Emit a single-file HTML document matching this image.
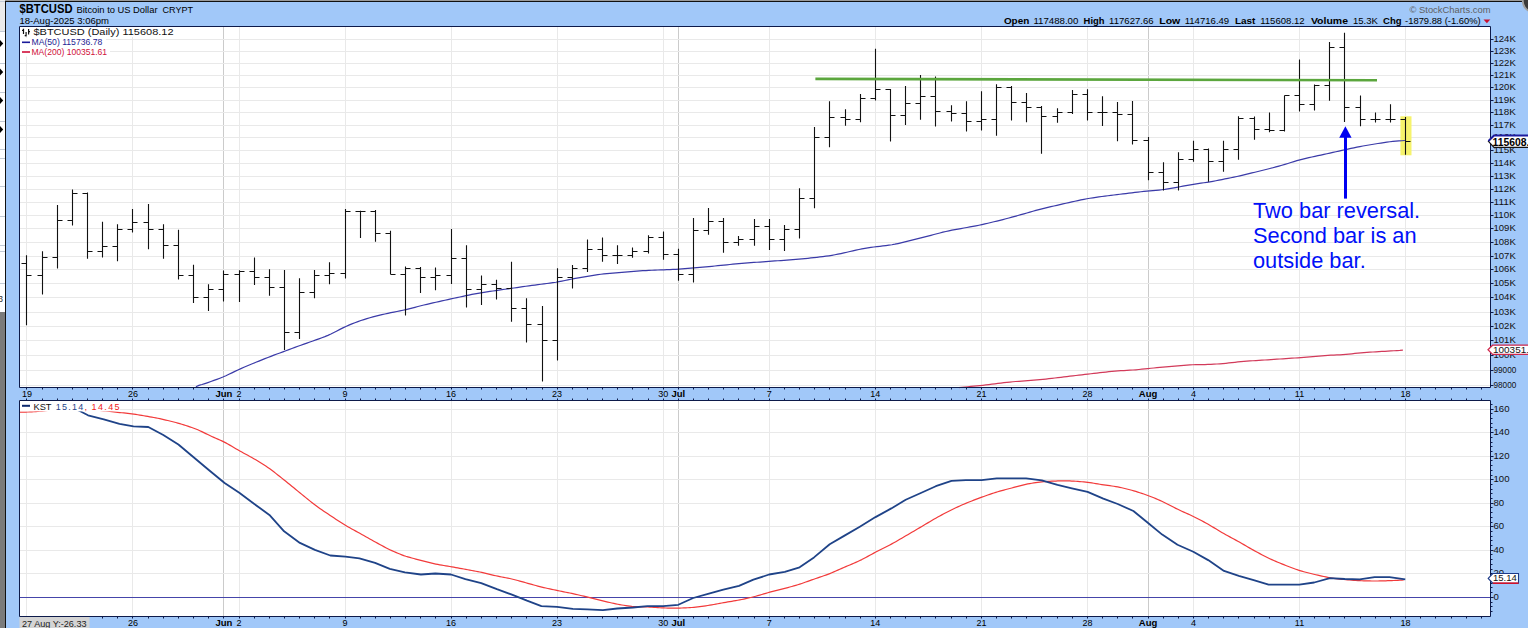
<!DOCTYPE html><html><head><meta charset="utf-8"><style>html,body{margin:0;padding:0;background:#fff;overflow:hidden}svg text{font-family:"Liberation Sans",sans-serif}</style></head><body>
<svg width="1528" height="628" viewBox="0 0 1528 628" style="display:block">
<rect x="0" y="0" width="1528" height="628" fill="#ffffff"/>
<rect x="0" y="0" width="5" height="31" fill="#ebebeb"/>
<rect x="0" y="312" width="5" height="316" fill="#7b7b7b"/>
<rect x="0" y="1" width="5" height="1" fill="#c3cbd6"/>
<rect x="0" y="31" width="5" height="1" fill="#c3cbd6"/>
<rect x="0" y="63" width="5" height="1" fill="#c3cbd6"/>
<rect x="0" y="92" width="5" height="1" fill="#c3cbd6"/>
<rect x="0" y="121" width="5" height="1" fill="#c3cbd6"/>
<rect x="0" y="149" width="5" height="1" fill="#c3cbd6"/>
<rect x="0" y="158" width="5" height="1" fill="#c3cbd6"/>
<rect x="0" y="186" width="5" height="1" fill="#c3cbd6"/>
<rect x="0" y="216" width="5" height="1" fill="#c3cbd6"/>
<rect x="0" y="245" width="5" height="1" fill="#c3cbd6"/>
<rect x="0" y="251" width="5" height="1" fill="#c3cbd6"/>
<rect x="0" y="283" width="5" height="1" fill="#c3cbd6"/>
<path d="M0 40.0 L3.2 43.5 L0 47.0 Z" fill="#000"/>
<path d="M0 68.5 L3.2 72 L0 75.5 Z" fill="#000"/>
<path d="M0 97.0 L3.2 100.5 L0 104.0 Z" fill="#000"/>
<path d="M0 126.0 L3.2 129.5 L0 133.0 Z" fill="#000"/>
<text x="-2" y="302" font-size="9" fill="#333" font-weight="normal" text-anchor="start" >3</text>
<rect x="5" y="0" width="1523" height="1" fill="#9a9a9a"/>
<rect x="5" y="1" width="1523" height="1" fill="#111"/>
<rect x="5" y="1" width="1" height="627" fill="#111"/>
<rect x="6" y="2" width="1522" height="626" fill="#a1c8f9"/>
<circle cx="1534" cy="1" r="11.2" fill="#3a3a3a" stroke="#a0a0a0" stroke-width="1.8"/>
<text x="19.5" y="13.3" font-size="12.5" fill="#000" font-weight="bold" text-anchor="start" textLength="53" lengthAdjust="spacingAndGlyphs" >$BTCUSD</text>
<text x="76.5" y="12.8" font-size="9.5" fill="#000" font-weight="normal" text-anchor="start" textLength="81" lengthAdjust="spacingAndGlyphs" >Bitcoin to US Dollar</text>
<text x="162.5" y="12.8" font-size="9.8" fill="#000" font-weight="normal" text-anchor="start" textLength="30.5" lengthAdjust="spacingAndGlyphs" >CRYPT</text>
<text x="19.5" y="24.2" font-size="9.5" fill="#000" font-weight="normal" text-anchor="start" textLength="89.5" lengthAdjust="spacingAndGlyphs" >18-Aug-2025 3:06pm</text>
<text x="1409.5" y="12.7" font-size="9.5" fill="#606060" font-weight="normal" text-anchor="start" textLength="81" lengthAdjust="spacingAndGlyphs" >© StockCharts.com</text>
<text x="1003.9" y="23.8" font-size="9.8" fill="#000" font-weight="bold" text-anchor="start" textLength="25.4" lengthAdjust="spacingAndGlyphs" >Open</text>
<text x="1033.4" y="23.8" font-size="9" fill="#000" font-weight="normal" text-anchor="start" textLength="45.0" lengthAdjust="spacingAndGlyphs" >117488.00</text>
<text x="1083.6" y="23.8" font-size="9.8" fill="#000" font-weight="bold" text-anchor="start" textLength="20.9" lengthAdjust="spacingAndGlyphs" >High</text>
<text x="1109.1" y="23.8" font-size="9" fill="#000" font-weight="normal" text-anchor="start" textLength="44.5" lengthAdjust="spacingAndGlyphs" >117627.66</text>
<text x="1159.3" y="23.8" font-size="9.8" fill="#000" font-weight="bold" text-anchor="start" textLength="21.0" lengthAdjust="spacingAndGlyphs" >Low</text>
<text x="1184.7" y="23.8" font-size="9" fill="#000" font-weight="normal" text-anchor="start" textLength="44.5" lengthAdjust="spacingAndGlyphs" >114716.49</text>
<text x="1234.9" y="23.8" font-size="9.8" fill="#000" font-weight="bold" text-anchor="start" textLength="20.5" lengthAdjust="spacingAndGlyphs" >Last</text>
<text x="1260.2" y="23.8" font-size="9" fill="#000" font-weight="normal" text-anchor="start" textLength="44.5" lengthAdjust="spacingAndGlyphs" >115608.12</text>
<text x="1310.9" y="23.8" font-size="9.8" fill="#000" font-weight="bold" text-anchor="start" textLength="37.1" lengthAdjust="spacingAndGlyphs" >Volume</text>
<text x="1352.9" y="23.8" font-size="9" fill="#000" font-weight="normal" text-anchor="start" textLength="24.9" lengthAdjust="spacingAndGlyphs" >15.3K</text>
<text x="1383.1" y="23.8" font-size="9.8" fill="#000" font-weight="bold" text-anchor="start" textLength="18.5" lengthAdjust="spacingAndGlyphs" >Chg</text>
<text x="1405.1" y="23.8" font-size="9" fill="#000" font-weight="normal" text-anchor="start" textLength="75.5" lengthAdjust="spacingAndGlyphs" >-1879.88 (-1.60%)</text>
<path d="M1483.5 19.5 L1490.3 19.5 L1486.9 23.2 Z" fill="#c8102e"/>
<rect x="19" y="26" width="1471" height="361" fill="#fff"/>
<rect x="19" y="400" width="1471" height="216" fill="#fff"/>
<path d="M223.5 26 V387 M223.5 400 V616 M678.5 26 V387 M678.5 400 V616 M1148.5 26 V387 M1148.5 400 V616" stroke="#cbcbcb" stroke-width="1" fill="none"/>
<path d="M26.5 26 V387 M26.5 400 V616 M132.5 26 V387 M132.5 400 V616 M239.5 26 V387 M239.5 400 V616 M345.5 26 V387 M345.5 400 V616 M451.5 26 V387 M451.5 400 V616 M557.5 26 V387 M557.5 400 V616 M663.5 26 V387 M663.5 400 V616 M769.5 26 V387 M769.5 400 V616 M875.5 26 V387 M875.5 400 V616 M981.5 26 V387 M981.5 400 V616 M1087.5 26 V387 M1087.5 400 V616 M1193.5 26 V387 M1193.5 400 V616 M1299.5 26 V387 M1299.5 400 V616 M1405.5 26 V387 M1405.5 400 V616 M19 385.5 H1490 M19 370.5 H1490 M19 355.5 H1490 M19 340.5 H1490 M19 326.5 H1490 M19 312.5 H1490 M19 297.5 H1490 M19 283.5 H1490 M19 269.5 H1490 M19 256.5 H1490 M19 242.5 H1490 M19 228.5 H1490 M19 215.5 H1490 M19 202.5 H1490 M19 189.5 H1490 M19 176.5 H1490 M19 163.5 H1490 M19 150.5 H1490 M19 137.5 H1490 M19 125.5 H1490 M19 112.5 H1490 M19 100.5 H1490 M19 87.5 H1490 M19 75.5 H1490 M19 63.5 H1490 M19 51.5 H1490 M19 39.5 H1490 M19 597.5 H1490 M19 573.5 H1490 M19 550.5 H1490 M19 526.5 H1490 M19 503.5 H1490 M19 479.5 H1490 M19 456.5 H1490 M19 432.5 H1490 M19 409.5 H1490" stroke="#e9e9e9" stroke-width="1" fill="none"/>
<rect x="1400.4" y="116.3" width="11.1" height="39" fill="#f6f36c"/>
<polyline points="958.9,387.6 961.9,387.24 964.9,387.01 967.9,386.75 970.9,386.47 973.9,386.19 976.9,385.9 979.9,385.6 982.9,385.28 985.9,384.93 988.9,384.56 991.9,384.19 994.9,383.81 997.9,383.43 1000.9,383.05 1003.9,382.68 1006.9,382.34 1009.9,382.03 1012.9,381.76 1015.9,381.51 1018.9,381.28 1021.9,381.06 1024.9,380.84 1027.9,380.62 1030.9,380.4 1033.9,380.17 1036.9,379.93 1039.9,379.67 1042.9,379.37 1045.9,379.04 1048.9,378.7 1051.9,378.35 1054.9,377.99 1057.9,377.64 1060.9,377.28 1063.9,376.92 1066.9,376.57 1069.9,376.21 1072.9,375.86 1075.9,375.5 1078.9,375.14 1081.9,374.79 1084.9,374.44 1087.9,374.09 1090.9,373.74 1093.9,373.4 1096.9,373.06 1099.9,372.72 1102.9,372.38 1105.9,372.04 1108.9,371.71 1111.9,371.39 1114.9,371.12 1117.9,370.88 1120.9,370.69 1123.9,370.53 1126.9,370.37 1129.9,370.2 1132.9,370.01 1135.9,369.78 1138.9,369.5 1141.9,369.19 1144.9,368.87 1147.9,368.56 1150.9,368.26 1153.9,367.98 1156.9,367.71 1159.9,367.45 1162.9,367.19 1165.9,366.93 1168.9,366.67 1171.9,366.41 1174.9,366.15 1177.9,365.9 1180.9,365.64 1183.9,365.38 1186.9,365.14 1189.9,364.93 1192.9,364.77 1195.9,364.67 1198.9,364.61 1201.9,364.58 1204.9,364.54 1207.9,364.46 1210.9,364.34 1213.9,364.19 1216.9,364.01 1219.9,363.81 1222.9,363.57 1225.9,363.28 1228.9,362.96 1231.9,362.63 1234.9,362.29 1237.9,361.96 1240.9,361.67 1243.9,361.4 1246.9,361.17 1249.9,360.96 1252.9,360.76 1255.9,360.56 1258.9,360.37 1261.9,360.17 1264.9,359.98 1267.9,359.78 1270.9,359.58 1273.9,359.39 1276.9,359.19 1279.9,359.0 1282.9,358.8 1285.9,358.6 1288.9,358.41 1291.9,358.21 1294.9,358.01 1297.9,357.79 1300.9,357.57 1303.9,357.34 1306.9,357.09 1309.9,356.85 1312.9,356.6 1315.9,356.35 1318.9,356.1 1321.9,355.85 1324.9,355.62 1327.9,355.4 1330.9,355.22 1333.9,355.06 1336.9,354.92 1339.9,354.78 1342.9,354.61 1345.9,354.39 1348.9,354.11 1351.9,353.79 1354.9,353.45 1357.9,353.12 1360.9,352.83 1363.9,352.58 1366.9,352.37 1369.9,352.18 1372.9,352.0 1375.9,351.82 1378.9,351.64 1381.9,351.47 1384.9,351.29 1387.9,351.11 1390.9,350.93 1393.9,350.76 1396.9,350.59 1399.9,350.45 1402.9,350.22" fill="none" stroke="#d23a5a" stroke-width="1.2"/>
<polyline points="195.9,386.8 198.9,385.34 201.9,384.52 204.9,383.57 207.9,382.56 210.9,381.51 213.9,380.44 216.9,379.35 219.9,378.21 222.9,377.0 225.9,375.7 228.9,374.31 231.9,372.86 234.9,371.4 237.9,369.97 240.9,368.59 243.9,367.27 246.9,366.0 249.9,364.76 252.9,363.53 255.9,362.31 258.9,361.09 261.9,359.88 264.9,358.68 267.9,357.49 270.9,356.33 273.9,355.18 276.9,354.05 279.9,352.94 282.9,351.82 285.9,350.71 288.9,349.6 291.9,348.49 294.9,347.39 297.9,346.29 300.9,345.21 303.9,344.15 306.9,343.09 309.9,342.04 312.9,340.99 315.9,339.93 318.9,338.87 321.9,337.77 324.9,336.61 327.9,335.35 330.9,333.97 333.9,332.49 336.9,330.95 339.9,329.4 342.9,327.9 345.9,326.48 348.9,325.15 351.9,323.89 354.9,322.71 357.9,321.59 360.9,320.55 363.9,319.58 366.9,318.66 369.9,317.79 372.9,316.95 375.9,316.14 378.9,315.37 381.9,314.65 384.9,313.97 387.9,313.33 390.9,312.71 393.9,312.1 396.9,311.49 399.9,310.86 402.9,310.22 405.9,309.54 408.9,308.82 411.9,308.07 414.9,307.3 417.9,306.53 420.9,305.77 423.9,305.04 426.9,304.33 429.9,303.63 432.9,302.95 435.9,302.27 438.9,301.6 441.9,300.93 444.9,300.26 447.9,299.59 450.9,298.93 453.9,298.28 456.9,297.63 459.9,296.99 462.9,296.35 465.9,295.71 468.9,295.08 471.9,294.46 474.9,293.86 477.9,293.3 480.9,292.79 483.9,292.31 486.9,291.86 489.9,291.42 492.9,290.99 495.9,290.56 498.9,290.13 501.9,289.7 504.9,289.27 507.9,288.84 510.9,288.41 513.9,287.99 516.9,287.56 519.9,287.13 522.9,286.7 525.9,286.28 528.9,285.86 531.9,285.44 534.9,285.04 537.9,284.65 540.9,284.27 543.9,283.9 546.9,283.52 549.9,283.12 552.9,282.7 555.9,282.24 558.9,281.71 561.9,281.14 564.9,280.53 567.9,279.9 570.9,279.27 573.9,278.67 576.9,278.09 579.9,277.55 582.9,277.04 585.9,276.54 588.9,276.06 591.9,275.59 594.9,275.12 597.9,274.68 600.9,274.28 603.9,273.92 606.9,273.61 609.9,273.33 612.9,273.08 615.9,272.84 618.9,272.6 621.9,272.36 624.9,272.12 627.9,271.88 630.9,271.64 633.9,271.4 636.9,271.16 639.9,270.93 642.9,270.72 645.9,270.53 648.9,270.36 651.9,270.23 654.9,270.1 657.9,269.99 660.9,269.89 663.9,269.78 666.9,269.67 669.9,269.56 672.9,269.43 675.9,269.28 678.9,269.1 681.9,268.9 684.9,268.67 687.9,268.42 690.9,268.17 693.9,267.91 696.9,267.65 699.9,267.39 702.9,267.12 705.9,266.85 708.9,266.57 711.9,266.28 714.9,265.98 717.9,265.68 720.9,265.38 723.9,265.09 726.9,264.79 729.9,264.49 732.9,264.2 735.9,263.91 738.9,263.63 741.9,263.38 744.9,263.13 747.9,262.9 750.9,262.68 753.9,262.47 756.9,262.25 759.9,262.04 762.9,261.82 765.9,261.61 768.9,261.39 771.9,261.18 774.9,260.96 777.9,260.75 780.9,260.53 783.9,260.32 786.9,260.1 789.9,259.89 792.9,259.66 795.9,259.43 798.9,259.18 801.9,258.91 804.9,258.61 807.9,258.3 810.9,257.97 813.9,257.64 816.9,257.3 819.9,256.96 822.9,256.6 825.9,256.22 828.9,255.79 831.9,255.31 834.9,254.78 837.9,254.19 840.9,253.57 843.9,252.91 846.9,252.23 849.9,251.52 852.9,250.81 855.9,250.13 858.9,249.49 861.9,248.9 864.9,248.37 867.9,247.89 870.9,247.44 873.9,247.03 876.9,246.64 879.9,246.28 882.9,245.93 885.9,245.58 888.9,245.19 891.9,244.74 894.9,244.2 897.9,243.57 900.9,242.88 903.9,242.15 906.9,241.41 909.9,240.66 912.9,239.91 915.9,239.16 918.9,238.41 921.9,237.65 924.9,236.89 927.9,236.12 930.9,235.33 933.9,234.54 936.9,233.75 939.9,232.96 942.9,232.2 945.9,231.49 948.9,230.82 951.9,230.2 954.9,229.63 957.9,229.08 960.9,228.54 963.9,228.01 966.9,227.48 969.9,226.95 972.9,226.41 975.9,225.85 978.9,225.26 981.9,224.63 984.9,223.96 987.9,223.26 990.9,222.53 993.9,221.79 996.9,221.05 999.9,220.3 1002.9,219.55 1005.9,218.79 1008.9,218.01 1011.9,217.2 1014.9,216.38 1017.9,215.54 1020.9,214.69 1023.9,213.83 1026.9,212.97 1029.9,212.11 1032.9,211.26 1035.9,210.42 1038.9,209.6 1041.9,208.82 1044.9,208.07 1047.9,207.36 1050.9,206.66 1053.9,205.98 1056.9,205.3 1059.9,204.63 1062.9,203.95 1065.9,203.28 1068.9,202.6 1071.9,201.93 1074.9,201.26 1077.9,200.6 1080.9,199.96 1083.9,199.35 1086.9,198.78 1089.9,198.27 1092.9,197.79 1095.9,197.34 1098.9,196.91 1101.9,196.51 1104.9,196.12 1107.9,195.74 1110.9,195.37 1113.9,195.01 1116.9,194.64 1119.9,194.27 1122.9,193.91 1125.9,193.54 1128.9,193.18 1131.9,192.81 1134.9,192.45 1137.9,192.09 1140.9,191.73 1143.9,191.4 1146.9,191.09 1149.9,190.82 1152.9,190.57 1155.9,190.33 1158.9,190.08 1161.9,189.77 1164.9,189.4 1167.9,188.95 1170.9,188.44 1173.9,187.89 1176.9,187.32 1179.9,186.75 1182.9,186.18 1185.9,185.62 1188.9,185.07 1191.9,184.55 1194.9,184.07 1197.9,183.62 1200.9,183.19 1203.9,182.76 1206.9,182.31 1209.9,181.82 1212.9,181.29 1215.9,180.73 1218.9,180.14 1221.9,179.54 1224.9,178.94 1227.9,178.33 1230.9,177.72 1233.9,177.11 1236.9,176.47 1239.9,175.81 1242.9,175.13 1245.9,174.42 1248.9,173.69 1251.9,172.95 1254.9,172.21 1257.9,171.47 1260.9,170.73 1263.9,169.98 1266.9,169.24 1269.9,168.49 1272.9,167.73 1275.9,166.95 1278.9,166.13 1281.9,165.27 1284.9,164.37 1287.9,163.45 1290.9,162.51 1293.9,161.59 1296.9,160.7 1299.9,159.86 1302.9,159.09 1305.9,158.37 1308.9,157.68 1311.9,157.01 1314.9,156.35 1317.9,155.69 1320.9,155.04 1323.9,154.38 1326.9,153.72 1329.9,153.06 1332.9,152.4 1335.9,151.75 1338.9,151.09 1341.9,150.43 1344.9,149.77 1347.9,149.11 1350.9,148.45 1353.9,147.81 1356.9,147.19 1359.9,146.59 1362.9,146.03 1365.9,145.5 1368.9,144.99 1371.9,144.5 1374.9,144.01 1377.9,143.52 1380.9,143.04 1383.9,142.58 1386.9,142.15 1389.9,141.77 1392.9,141.44 1395.9,141.17 1398.9,140.95 1401.9,140.77 1404.9,140.48" fill="none" stroke="#3a3aa8" stroke-width="1.2"/>
<path d="M26.5 255.2 V325.2 M21.5 263.5 H26.5 M26.5 275.5 H31.5 M42.5 251.2 V294.6 M37.5 275.5 H42.5 M42.5 257.5 H47.5 M57.5 205.0 V268.4 M52.5 257.5 H57.5 M57.5 220.5 H62.5 M72.5 189.6 V225.4 M67.5 220.5 H72.5 M72.5 193.5 H77.5 M87.5 192.4 V258.8 M82.5 193.5 H87.5 M87.5 251.5 H92.5 M102.5 221.8 V257.6 M97.5 251.5 H102.5 M102.5 246.5 H107.5 M117.5 224.2 V261.2 M112.5 246.5 H117.5 M117.5 229.5 H122.5 M132.5 209.1 V232.5 M127.5 229.5 H132.5 M132.5 222.5 H137.5 M148.5 203.9 V249.3 M143.5 222.5 H148.5 M148.5 229.5 H153.5 M163.5 224.2 V258.8 M158.5 229.5 H163.5 M163.5 245.5 H168.5 M178.5 229.7 V279.5 M173.5 245.5 H178.5 M178.5 275.5 H183.5 M193.5 264.8 V303.0 M188.5 275.5 H193.5 M193.5 297.5 H198.5 M208.5 284.3 V311.1 M203.5 297.5 H208.5 M208.5 289.5 H213.5 M223.5 270.6 V301.5 M218.5 289.5 H223.5 M223.5 274.5 H228.5 M239.5 270.2 V302.1 M234.5 274.5 H239.5 M239.5 271.5 H244.5 M254.5 257.6 V284.9 M249.5 271.5 H254.5 M254.5 277.5 H259.5 M269.5 269.2 V295.8 M264.5 277.5 H269.5 M269.5 287.5 H274.5 M284.5 270.0 V349.9 M279.5 287.5 H284.5 M284.5 332.5 H289.5 M299.5 278.2 V339.0 M294.5 332.5 H299.5 M299.5 292.5 H304.5 M314.5 270.0 V298.3 M309.5 292.5 H314.5 M314.5 275.5 H319.5 M329.5 262.2 V284.2 M324.5 275.5 H329.5 M329.5 273.5 H334.5 M345.5 208.9 V278.5 M340.5 273.5 H345.5 M345.5 211.5 H350.5 M360.5 210.7 V237.9 M355.5 211.5 H360.5 M360.5 211.5 H365.5 M375.5 210.0 V241.7 M370.5 211.5 H375.5 M375.5 233.5 H380.5 M390.5 230.8 V274.3 M385.5 233.5 H390.5 M390.5 274.5 H395.5 M405.5 266.5 V315.5 M400.5 274.5 H405.5 M405.5 268.5 H410.5 M420.5 266.9 V293.0 M415.5 268.5 H420.5 M420.5 277.5 H425.5 M435.5 267.6 V290.3 M430.5 277.5 H435.5 M435.5 275.5 H440.5 M451.5 229.0 V284.0 M446.5 275.5 H451.5 M451.5 258.5 H456.5 M466.5 245.3 V307.5 M461.5 258.5 H466.5 M466.5 289.5 H471.5 M481.5 275.4 V305.0 M476.5 289.5 H481.5 M481.5 284.5 H486.5 M496.5 279.7 V299.6 M491.5 284.5 H496.5 M496.5 288.5 H501.5 M511.5 261.8 V321.7 M506.5 288.5 H511.5 M511.5 308.5 H516.5 M526.5 298.3 V342.6 M521.5 308.5 H526.5 M526.5 324.5 H531.5 M542.5 305.9 V381.6 M537.5 324.5 H542.5 M542.5 340.5 H547.5 M557.5 268.2 V360.4 M552.5 340.5 H557.5 M557.5 277.5 H562.5 M572.5 264.9 V288.6 M567.5 277.5 H572.5 M572.5 268.5 H577.5 M587.5 239.4 V272.0 M582.5 268.5 H587.5 M587.5 249.5 H592.5 M602.5 237.6 V261.8 M597.5 249.5 H602.5 M602.5 255.5 H607.5 M617.5 245.3 V263.9 M612.5 255.5 H617.5 M617.5 255.5 H622.5 M632.5 247.4 V257.8 M627.5 255.5 H632.5 M632.5 251.5 H637.5 M648.5 235.2 V253.4 M643.5 251.5 H648.5 M648.5 237.5 H653.5 M663.5 231.5 V259.7 M658.5 237.5 H663.5 M663.5 254.5 H668.5 M678.5 248.7 V280.7 M673.5 254.5 H678.5 M678.5 274.5 H683.5 M693.5 218.0 V282.5 M688.5 274.5 H693.5 M693.5 230.5 H698.5 M708.5 207.9 V234.7 M703.5 230.5 H708.5 M708.5 221.5 H713.5 M723.5 218.0 V252.7 M718.5 221.5 H723.5 M723.5 242.5 H728.5 M738.5 236.1 V245.7 M733.5 242.5 H738.5 M738.5 239.5 H743.5 M754.5 218.9 V245.7 M749.5 239.5 H754.5 M754.5 226.5 H759.5 M769.5 218.9 V249.9 M764.5 226.5 H769.5 M769.5 239.5 H774.5 M784.5 225.0 V251.0 M779.5 239.5 H784.5 M784.5 229.5 H789.5 M799.5 188.3 V238.5 M794.5 229.5 H799.5 M799.5 198.5 H804.5 M814.5 127.0 V208.3 M809.5 198.5 H814.5 M814.5 137.5 H819.5 M829.5 101.3 V147.2 M824.5 137.5 H829.5 M829.5 117.5 H834.5 M845.5 109.2 V125.8 M840.5 117.5 H845.5 M845.5 119.5 H850.5 M860.5 94.0 V122.3 M855.5 119.5 H860.5 M860.5 98.5 H865.5 M875.5 48.8 V100.4 M870.5 98.5 H875.5 M875.5 89.5 H880.5 M890.5 89.0 V141.6 M885.5 89.5 H890.5 M890.5 115.5 H895.5 M905.5 85.9 V125.0 M900.5 115.5 H905.5 M905.5 103.5 H910.5 M920.5 75.0 V119.7 M915.5 103.5 H920.5 M920.5 96.5 H925.5 M935.5 76.4 V126.4 M930.5 96.5 H935.5 M935.5 111.5 H940.5 M951.5 105.3 V121.6 M946.5 111.5 H951.5 M951.5 113.5 H956.5 M966.5 101.2 V131.5 M961.5 113.5 H966.5 M966.5 121.5 H971.5 M981.5 91.2 V130.4 M976.5 121.5 H981.5 M981.5 119.5 H986.5 M996.5 84.2 V135.7 M991.5 119.5 H996.5 M996.5 87.5 H1001.5 M1011.5 85.9 V120.4 M1006.5 87.5 H1011.5 M1011.5 102.5 H1016.5 M1026.5 92.9 V122.2 M1021.5 102.5 H1026.5 M1026.5 107.5 H1031.5 M1041.5 105.9 V153.7 M1036.5 107.5 H1041.5 M1041.5 116.5 H1046.5 M1057.5 108.2 V122.7 M1052.5 116.5 H1057.5 M1057.5 112.5 H1062.5 M1072.5 90.1 V114.0 M1067.5 112.5 H1072.5 M1072.5 94.5 H1077.5 M1087.5 89.3 V120.4 M1082.5 94.5 H1087.5 M1087.5 112.5 H1092.5 M1102.5 96.2 V125.9 M1097.5 112.5 H1102.5 M1102.5 112.5 H1107.5 M1117.5 102.0 V141.2 M1112.5 112.5 H1117.5 M1117.5 114.5 H1122.5 M1132.5 101.0 V144.6 M1127.5 114.5 H1132.5 M1132.5 140.5 H1137.5 M1148.5 137.0 V180.3 M1143.5 140.5 H1148.5 M1148.5 172.5 H1153.5 M1163.5 162.2 V190.5 M1158.5 172.5 H1163.5 M1163.5 182.5 H1168.5 M1178.5 152.2 V190.5 M1173.5 182.5 H1178.5 M1178.5 159.5 H1183.5 M1193.5 140.8 V161.8 M1188.5 159.5 H1193.5 M1193.5 149.5 H1198.5 M1208.5 148.4 V181.7 M1203.5 149.5 H1208.5 M1208.5 161.5 H1213.5 M1223.5 140.8 V171.7 M1218.5 161.5 H1223.5 M1223.5 149.5 H1228.5 M1238.5 116.2 V159.8 M1233.5 149.5 H1238.5 M1238.5 118.5 H1243.5 M1254.5 116.4 V139.7 M1249.5 118.5 H1254.5 M1254.5 129.5 H1259.5 M1269.5 112.5 V132.2 M1264.5 129.5 H1269.5 M1269.5 130.5 H1274.5 M1284.5 95.4 V131.5 M1279.5 130.5 H1284.5 M1284.5 95.5 H1289.5 M1299.5 59.4 V111.5 M1294.5 95.5 H1299.5 M1299.5 104.5 H1304.5 M1314.5 84.4 V110.5 M1309.5 104.5 H1314.5 M1314.5 85.5 H1319.5 M1329.5 42.0 V100.7 M1324.5 85.5 H1329.5 M1329.5 47.5 H1334.5 M1344.5 32.7 V121.9 M1339.5 47.5 H1344.5 M1344.5 107.5 H1349.5 M1360.5 95.6 V126.3 M1355.5 107.5 H1360.5 M1360.5 119.5 H1365.5 M1375.5 112.5 V122.4 M1370.5 119.5 H1375.5 M1375.5 119.5 H1380.5 M1390.5 104.2 V122.4 M1385.5 119.5 H1390.5 M1390.5 119.5 H1395.5 M1405.5 117.0 V154.8 M1400.5 119.5 H1405.5 M1405.5 141.5 H1410.5" stroke="#111" stroke-width="1.1" fill="none"/>
<line x1="815.4" y1="78.9" x2="1377" y2="80.2" stroke="#5ba63d" stroke-width="2.6"/>
<rect x="1344" y="136" width="3" height="62.6" fill="#0000f0"/>
<path d="M1345.4 126.3 L1351.6 137.8 L1339.2 137.8 Z" fill="#0000f0"/>
<text x="1253" y="217.5" font-size="21.8" fill="#0010f8">Two bar reversal.</text>
<text x="1253" y="242.8" font-size="21.8" fill="#0010f8">Second bar is an</text>
<text x="1253" y="268.1" font-size="21.8" fill="#0010f8">outside bar.</text>
<rect x="20" y="27" width="156" height="10" fill="#fff"/>
<rect x="20" y="38" width="86" height="9" fill="#fff"/>
<rect x="20" y="47.5" width="90" height="9" fill="#fff"/>
<path d="M23.5 28.8 V34 M22 30.3 H23.5 M26.1 32 V36.6 M24.7 35.6 H26.1 M28.6 29 V34.5 M28.6 31.6 H30" stroke="#111" stroke-width="1.2" fill="none"/>
<text x="33.5" y="35.4" font-size="8.2" fill="#111" font-weight="normal" text-anchor="start" textLength="140" lengthAdjust="spacingAndGlyphs" >$BTCUSD (Daily) 115608.12</text>
<rect x="22" y="41.5" width="8" height="1.6" fill="#1a1a9a"/>
<text x="31.5" y="45" font-size="8.3" fill="#1c1c92" font-weight="normal" text-anchor="start" textLength="70.8" lengthAdjust="spacingAndGlyphs" >MA(50) 115736.78</text>
<rect x="22" y="51.2" width="8" height="1.6" fill="#d0103a"/>
<text x="31.5" y="54.6" font-size="8.3" fill="#d0103a" font-weight="normal" text-anchor="start" textLength="75.6" lengthAdjust="spacingAndGlyphs" >MA(200) 100351.61</text>
<clipPath id="kc"><rect x="19" y="401" width="1471" height="215"/></clipPath>
<line x1="19" y1="597.5" x2="1490" y2="597.5" stroke="#4545aa" stroke-width="1.2"/>
<polyline clip-path="url(#kc)" points="19.8,412.2 21.8,412.14 23.8,412.11 25.8,412.07 27.8,412.02 29.8,411.96 31.8,411.88 33.8,411.77 35.8,411.62 37.8,411.45 39.8,411.27 41.8,411.07 43.8,410.86 45.8,410.66 47.8,410.45 49.8,410.25 51.8,410.04 53.8,409.85 55.8,409.66 57.8,409.5 59.8,409.37 61.8,409.29 63.8,409.24 65.8,409.21 67.8,409.2 69.8,409.2 71.8,409.2 73.8,409.2 75.8,409.2 77.8,409.2 79.8,409.2 81.8,409.2 83.8,409.21 85.8,409.23 87.8,409.28 89.8,409.37 91.8,409.5 93.8,409.68 95.8,409.88 97.8,410.1 99.8,410.32 101.8,410.55 103.8,410.78 105.8,411.0 107.8,411.23 109.8,411.45 111.8,411.68 113.8,411.89 115.8,412.11 117.8,412.32 119.8,412.54 121.8,412.75 123.8,412.97 125.8,413.18 127.8,413.4 129.8,413.63 131.8,413.88 133.8,414.14 135.8,414.44 137.8,414.76 139.8,415.09 141.8,415.42 143.8,415.77 145.8,416.11 147.8,416.45 149.8,416.8 151.8,417.14 153.8,417.5 155.8,417.87 157.8,418.26 159.8,418.69 161.8,419.13 163.8,419.59 165.8,420.06 167.8,420.54 169.8,421.02 171.8,421.5 173.8,422.0 175.8,422.52 177.8,423.07 179.8,423.66 181.8,424.27 183.8,424.9 185.8,425.53 187.8,426.18 189.8,426.83 191.8,427.5 193.8,428.2 195.8,428.96 197.8,429.79 199.8,430.69 201.8,431.63 203.8,432.61 205.8,433.59 207.8,434.56 209.8,435.51 211.8,436.44 213.8,437.34 215.8,438.22 217.8,439.09 219.8,439.98 221.8,440.9 223.8,441.87 225.8,442.9 227.8,444.0 229.8,445.14 231.8,446.32 233.8,447.5 235.8,448.68 237.8,449.84 239.8,450.98 241.8,452.09 243.8,453.18 245.8,454.26 247.8,455.34 249.8,456.42 251.8,457.53 253.8,458.66 255.8,459.84 257.8,461.04 259.8,462.28 261.8,463.53 263.8,464.8 265.8,466.1 267.8,467.44 269.8,468.84 271.8,470.3 273.8,471.82 275.8,473.37 277.8,474.94 279.8,476.52 281.8,478.1 283.8,479.7 285.8,481.31 287.8,482.93 289.8,484.56 291.8,486.19 293.8,487.82 295.8,489.45 297.8,491.09 299.8,492.72 301.8,494.36 303.8,496.0 305.8,497.64 307.8,499.27 309.8,500.89 311.8,502.49 313.8,504.04 315.8,505.55 317.8,507.0 319.8,508.41 321.8,509.79 323.8,511.16 325.8,512.52 327.8,513.87 329.8,515.21 331.8,516.54 333.8,517.86 335.8,519.16 337.8,520.46 339.8,521.75 341.8,523.02 343.8,524.27 345.8,525.48 347.8,526.65 349.8,527.79 351.8,528.91 353.8,530.02 355.8,531.12 357.8,532.23 359.8,533.34 361.8,534.45 363.8,535.57 365.8,536.69 367.8,537.81 369.8,538.93 371.8,540.04 373.8,541.15 375.8,542.26 377.8,543.36 379.8,544.45 381.8,545.54 383.8,546.62 385.8,547.68 387.8,548.71 389.8,549.7 391.8,550.64 393.8,551.53 395.8,552.39 397.8,553.22 399.8,554.04 401.8,554.83 403.8,555.57 405.8,556.25 407.8,556.87 409.8,557.45 411.8,558.0 413.8,558.53 415.8,559.06 417.8,559.58 419.8,560.11 421.8,560.62 423.8,561.14 425.8,561.66 427.8,562.17 429.8,562.67 431.8,563.16 433.8,563.63 435.8,564.06 437.8,564.45 439.8,564.82 441.8,565.17 443.8,565.51 445.8,565.84 447.8,566.18 449.8,566.52 451.8,566.86 453.8,567.21 455.8,567.57 457.8,567.93 459.8,568.29 461.8,568.65 463.8,569.01 465.8,569.38 467.8,569.74 469.8,570.11 471.8,570.48 473.8,570.85 475.8,571.22 477.8,571.6 479.8,572.01 481.8,572.43 483.8,572.89 485.8,573.36 487.8,573.84 489.8,574.33 491.8,574.82 493.8,575.3 495.8,575.75 497.8,576.18 499.8,576.59 501.8,576.97 503.8,577.35 505.8,577.72 507.8,578.11 509.8,578.52 511.8,578.98 513.8,579.47 515.8,579.99 517.8,580.53 519.8,581.08 521.8,581.64 523.8,582.2 525.8,582.76 527.8,583.32 529.8,583.88 531.8,584.43 533.8,584.99 535.8,585.54 537.8,586.08 539.8,586.6 541.8,587.1 543.8,587.58 545.8,588.04 547.8,588.48 549.8,588.92 551.8,589.35 553.8,589.78 555.8,590.2 557.8,590.61 559.8,591.02 561.8,591.42 563.8,591.82 565.8,592.22 567.8,592.62 569.8,593.03 571.8,593.45 573.8,593.88 575.8,594.33 577.8,594.79 579.8,595.26 581.8,595.73 583.8,596.2 585.8,596.68 587.8,597.17 589.8,597.65 591.8,598.15 593.8,598.64 595.8,599.14 597.8,599.63 599.8,600.12 601.8,600.61 603.8,601.1 605.8,601.58 607.8,602.05 609.8,602.52 611.8,602.99 613.8,603.44 615.8,603.87 617.8,604.26 619.8,604.63 621.8,604.97 623.8,605.28 625.8,605.59 627.8,605.88 629.8,606.14 631.8,606.37 633.8,606.54 635.8,606.66 637.8,606.74 639.8,606.79 641.8,606.83 643.8,606.87 645.8,606.93 647.8,607.01 649.8,607.11 651.8,607.22 653.8,607.35 655.8,607.49 657.8,607.62 659.8,607.74 661.8,607.85 663.8,607.94 665.8,608.0 667.8,608.05 669.8,608.08 671.8,608.11 673.8,608.12 675.8,608.13 677.8,608.11 679.8,608.07 681.8,608.01 683.8,607.93 685.8,607.84 687.8,607.74 689.8,607.62 691.8,607.48 693.8,607.31 695.8,607.1 697.8,606.86 699.8,606.61 701.8,606.34 703.8,606.07 705.8,605.79 707.8,605.49 709.8,605.17 711.8,604.83 713.8,604.47 715.8,604.1 717.8,603.73 719.8,603.37 721.8,603.0 723.8,602.65 725.8,602.3 727.8,601.96 729.8,601.62 731.8,601.29 733.8,600.95 735.8,600.61 737.8,600.24 739.8,599.87 741.8,599.47 743.8,599.05 745.8,598.63 747.8,598.19 749.8,597.74 751.8,597.27 753.8,596.76 755.8,596.23 757.8,595.66 759.8,595.08 761.8,594.49 763.8,593.9 765.8,593.31 767.8,592.74 769.8,592.19 771.8,591.66 773.8,591.14 775.8,590.64 777.8,590.14 779.8,589.64 781.8,589.13 783.8,588.62 785.8,588.09 787.8,587.55 789.8,587.01 791.8,586.46 793.8,585.9 795.8,585.32 797.8,584.73 799.8,584.1 801.8,583.45 803.8,582.76 805.8,582.05 807.8,581.34 809.8,580.62 811.8,579.91 813.8,579.21 815.8,578.51 817.8,577.83 819.8,577.14 821.8,576.46 823.8,575.78 825.8,575.08 827.8,574.35 829.8,573.58 831.8,572.77 833.8,571.92 835.8,571.04 837.8,570.14 839.8,569.25 841.8,568.36 843.8,567.49 845.8,566.63 847.8,565.78 849.8,564.94 851.8,564.11 853.8,563.27 855.8,562.41 857.8,561.52 859.8,560.58 861.8,559.59 863.8,558.54 865.8,557.46 867.8,556.37 869.8,555.27 871.8,554.17 873.8,553.1 875.8,552.04 877.8,551.01 879.8,549.99 881.8,548.99 883.8,548.0 885.8,547.0 887.8,545.99 889.8,544.95 891.8,543.89 893.8,542.78 895.8,541.65 897.8,540.5 899.8,539.34 901.8,538.17 903.8,537.01 905.8,535.84 907.8,534.67 909.8,533.5 911.8,532.33 913.8,531.15 915.8,529.98 917.8,528.81 919.8,527.63 921.8,526.45 923.8,525.26 925.8,524.07 927.8,522.88 929.8,521.69 931.8,520.51 933.8,519.34 935.8,518.2 937.8,517.08 939.8,515.98 941.8,514.9 943.8,513.83 945.8,512.76 947.8,511.71 949.8,510.68 951.8,509.69 953.8,508.72 955.8,507.78 957.8,506.87 959.8,505.96 961.8,505.07 963.8,504.2 965.8,503.35 967.8,502.53 969.8,501.73 971.8,500.95 973.8,500.18 975.8,499.42 977.8,498.66 979.8,497.92 981.8,497.18 983.8,496.46 985.8,495.75 987.8,495.04 989.8,494.35 991.8,493.66 993.8,492.99 995.8,492.35 997.8,491.74 999.8,491.16 1001.8,490.61 1003.8,490.07 1005.8,489.54 1007.8,489.02 1009.8,488.49 1011.8,487.96 1013.8,487.42 1015.8,486.89 1017.8,486.35 1019.8,485.82 1021.8,485.3 1023.8,484.8 1025.8,484.35 1027.8,483.94 1029.8,483.58 1031.8,483.25 1033.8,482.93 1035.8,482.63 1037.8,482.34 1039.8,482.08 1041.8,481.86 1043.8,481.68 1045.8,481.53 1047.8,481.41 1049.8,481.3 1051.8,481.2 1053.8,481.11 1055.8,481.03 1057.8,480.97 1059.8,480.94 1061.8,480.91 1063.8,480.91 1065.8,480.91 1067.8,480.93 1069.8,480.96 1071.8,481.03 1073.8,481.12 1075.8,481.25 1077.8,481.4 1079.8,481.56 1081.8,481.73 1083.8,481.92 1085.8,482.13 1087.8,482.37 1089.8,482.64 1091.8,482.95 1093.8,483.27 1095.8,483.61 1097.8,483.95 1099.8,484.28 1101.8,484.6 1103.8,484.9 1105.8,485.18 1107.8,485.45 1109.8,485.71 1111.8,485.98 1113.8,486.25 1115.8,486.56 1117.8,486.91 1119.8,487.31 1121.8,487.76 1123.8,488.23 1125.8,488.72 1127.8,489.22 1129.8,489.74 1131.8,490.27 1133.8,490.84 1135.8,491.44 1137.8,492.06 1139.8,492.7 1141.8,493.35 1143.8,494.02 1145.8,494.72 1147.8,495.44 1149.8,496.2 1151.8,497.0 1153.8,497.81 1155.8,498.65 1157.8,499.5 1159.8,500.37 1161.8,501.28 1163.8,502.23 1165.8,503.22 1167.8,504.24 1169.8,505.28 1171.8,506.31 1173.8,507.34 1175.8,508.34 1177.8,509.32 1179.8,510.26 1181.8,511.18 1183.8,512.08 1185.8,512.98 1187.8,513.88 1189.8,514.79 1191.8,515.72 1193.8,516.68 1195.8,517.68 1197.8,518.71 1199.8,519.76 1201.8,520.82 1203.8,521.89 1205.8,522.98 1207.8,524.1 1209.8,525.24 1211.8,526.42 1213.8,527.61 1215.8,528.82 1217.8,530.03 1219.8,531.23 1221.8,532.41 1223.8,533.57 1225.8,534.7 1227.8,535.8 1229.8,536.89 1231.8,537.96 1233.8,539.04 1235.8,540.13 1237.8,541.22 1239.8,542.34 1241.8,543.48 1243.8,544.63 1245.8,545.79 1247.8,546.95 1249.8,548.11 1251.8,549.25 1253.8,550.37 1255.8,551.47 1257.8,552.56 1259.8,553.63 1261.8,554.69 1263.8,555.73 1265.8,556.75 1267.8,557.74 1269.8,558.69 1271.8,559.6 1273.8,560.48 1275.8,561.35 1277.8,562.2 1279.8,563.04 1281.8,563.87 1283.8,564.68 1285.8,565.48 1287.8,566.26 1289.8,567.02 1291.8,567.77 1293.8,568.51 1295.8,569.23 1297.8,569.92 1299.8,570.56 1301.8,571.16 1303.8,571.72 1305.8,572.25 1307.8,572.76 1309.8,573.27 1311.8,573.77 1313.8,574.25 1315.8,574.73 1317.8,575.19 1319.8,575.64 1321.8,576.09 1323.8,576.53 1325.8,576.96 1327.8,577.36 1329.8,577.72 1331.8,578.05 1333.8,578.34 1335.8,578.6 1337.8,578.85 1339.8,579.08 1341.8,579.31 1343.8,579.52 1345.8,579.7 1347.8,579.87 1349.8,580.02 1351.8,580.16 1353.8,580.3 1355.8,580.42 1357.8,580.54 1359.8,580.64 1361.8,580.73 1363.8,580.8 1365.8,580.86 1367.8,580.91 1369.8,580.96 1371.8,580.99 1373.8,581.01 1375.8,581.01 1377.8,580.99 1379.8,580.95 1381.8,580.9 1383.8,580.85 1385.8,580.79 1387.8,580.72 1389.8,580.65 1391.8,580.57 1393.8,580.48 1395.8,580.38 1397.8,580.28 1399.8,580.19 1401.8,580.12 1403.8,579.98" fill="none" stroke="#f23a3a" stroke-width="1.2" stroke-linejoin="round"/>
<polyline clip-path="url(#kc)" points="72,408 79.8,411.0 88,415.3 103.8,419.3 119.5,423.8 133.5,426.3 148.3,427 163.3,435 178.4,444.5 193,456.7 208.8,470 224.6,483 239.3,492.8 254.3,504 269.4,514.9 284.1,531.3 299.9,542.9 314.9,549.9 330.3,555.5 345.4,556.6 359.4,558.3 375.1,562.9 389.8,568.8 404.9,572.3 420.9,574.5 435.3,573.5 451,574.5 465.4,579.2 481.2,583.1 496.9,589.2 511.3,594.4 527,600.7 541.4,606.1 557.1,606.9 572.8,608.8 587.2,609.3 602.9,610.1 617.3,608.5 633,607.5 647.4,606.1 663.1,606.1 678.3,604.8 693.2,598 708.9,593.6 723.3,589.7 739,585.8 753.4,579.7 769.1,574.5 784.8,571.9 799.6,567.3 814,557.4 829.7,544.3 844.1,535.9 859.8,526.7 875.5,517.1 891.3,508.4 905.7,499.8 921.4,492.7 935.8,486.2 951.5,480.9 965.9,480.2 981.6,480.2 996.8,478.3 1011.7,478.3 1026.1,478.3 1041.8,480.4 1057.5,484.9 1071.9,488.3 1087.6,491.9 1103.3,498.7 1117.7,504 1133.4,511 1147.8,522.8 1162.2,534.6 1177.5,544.7 1193.3,551.7 1208.2,560.1 1224,570.9 1238.8,575.8 1253.7,580.2 1268.6,584.6 1284.4,584.6 1299.3,584.6 1314.2,582.5 1329.9,578.1 1344.8,579 1359.7,579.3 1374.6,577.2 1389.5,577.2 1405.3,579.3" fill="none" stroke="#1f4388" stroke-width="1.8" stroke-linejoin="round"/>
<rect x="20" y="401" width="100" height="10.4" fill="#fff"/>
<rect x="22" y="404.8" width="8" height="2" fill="#0d2a6e"/>
<text x="33.5" y="409.7" font-size="9" fill="#111" font-weight="normal" text-anchor="start" textLength="18" lengthAdjust="spacingAndGlyphs" >KST</text>
<text x="55.8" y="409.7" font-size="9" fill="#1f4388" font-weight="normal" text-anchor="start" textLength="27.4" lengthAdjust="spacing" >15.14</text>
<text x="84.6" y="409.7" font-size="9.3" fill="#f01818" font-weight="normal" text-anchor="start" >,</text>
<text x="91.6" y="409.7" font-size="9" fill="#f01818" font-weight="normal" text-anchor="start" textLength="27.9" lengthAdjust="spacing" >14.45</text>
<path d="M19.5 26.5 H1490.5 V387.5 H19.5 Z M19.5 400.5 H1490.5 V616.5 H19.5 Z" stroke="#0d1a4a" stroke-width="1" fill="none"/>
<path d="M26.5 388 v1.5 M26.5 398.5 v1.5 M26.5 617 v1.5 M42.5 388 v1.5 M42.5 398.5 v1.5 M42.5 617 v1.5 M57.5 388 v1.5 M57.5 398.5 v1.5 M57.5 617 v1.5 M72.5 388 v1.5 M72.5 398.5 v1.5 M72.5 617 v1.5 M87.5 388 v1.5 M87.5 398.5 v1.5 M87.5 617 v1.5 M102.5 388 v1.5 M102.5 398.5 v1.5 M102.5 617 v1.5 M117.5 388 v1.5 M117.5 398.5 v1.5 M117.5 617 v1.5 M132.5 388 v1.5 M132.5 398.5 v1.5 M132.5 617 v1.5 M148.5 388 v1.5 M148.5 398.5 v1.5 M148.5 617 v1.5 M163.5 388 v1.5 M163.5 398.5 v1.5 M163.5 617 v1.5 M178.5 388 v1.5 M178.5 398.5 v1.5 M178.5 617 v1.5 M193.5 388 v1.5 M193.5 398.5 v1.5 M193.5 617 v1.5 M208.5 388 v1.5 M208.5 398.5 v1.5 M208.5 617 v1.5 M223.5 388 v1.5 M223.5 398.5 v1.5 M223.5 617 v1.5 M239.5 388 v1.5 M239.5 398.5 v1.5 M239.5 617 v1.5 M254.5 388 v1.5 M254.5 398.5 v1.5 M254.5 617 v1.5 M269.5 388 v1.5 M269.5 398.5 v1.5 M269.5 617 v1.5 M284.5 388 v1.5 M284.5 398.5 v1.5 M284.5 617 v1.5 M299.5 388 v1.5 M299.5 398.5 v1.5 M299.5 617 v1.5 M314.5 388 v1.5 M314.5 398.5 v1.5 M314.5 617 v1.5 M329.5 388 v1.5 M329.5 398.5 v1.5 M329.5 617 v1.5 M345.5 388 v1.5 M345.5 398.5 v1.5 M345.5 617 v1.5 M360.5 388 v1.5 M360.5 398.5 v1.5 M360.5 617 v1.5 M375.5 388 v1.5 M375.5 398.5 v1.5 M375.5 617 v1.5 M390.5 388 v1.5 M390.5 398.5 v1.5 M390.5 617 v1.5 M405.5 388 v1.5 M405.5 398.5 v1.5 M405.5 617 v1.5 M420.5 388 v1.5 M420.5 398.5 v1.5 M420.5 617 v1.5 M435.5 388 v1.5 M435.5 398.5 v1.5 M435.5 617 v1.5 M451.5 388 v1.5 M451.5 398.5 v1.5 M451.5 617 v1.5 M466.5 388 v1.5 M466.5 398.5 v1.5 M466.5 617 v1.5 M481.5 388 v1.5 M481.5 398.5 v1.5 M481.5 617 v1.5 M496.5 388 v1.5 M496.5 398.5 v1.5 M496.5 617 v1.5 M511.5 388 v1.5 M511.5 398.5 v1.5 M511.5 617 v1.5 M526.5 388 v1.5 M526.5 398.5 v1.5 M526.5 617 v1.5 M542.5 388 v1.5 M542.5 398.5 v1.5 M542.5 617 v1.5 M557.5 388 v1.5 M557.5 398.5 v1.5 M557.5 617 v1.5 M572.5 388 v1.5 M572.5 398.5 v1.5 M572.5 617 v1.5 M587.5 388 v1.5 M587.5 398.5 v1.5 M587.5 617 v1.5 M602.5 388 v1.5 M602.5 398.5 v1.5 M602.5 617 v1.5 M617.5 388 v1.5 M617.5 398.5 v1.5 M617.5 617 v1.5 M632.5 388 v1.5 M632.5 398.5 v1.5 M632.5 617 v1.5 M648.5 388 v1.5 M648.5 398.5 v1.5 M648.5 617 v1.5 M663.5 388 v1.5 M663.5 398.5 v1.5 M663.5 617 v1.5 M678.5 388 v1.5 M678.5 398.5 v1.5 M678.5 617 v1.5 M693.5 388 v1.5 M693.5 398.5 v1.5 M693.5 617 v1.5 M708.5 388 v1.5 M708.5 398.5 v1.5 M708.5 617 v1.5 M723.5 388 v1.5 M723.5 398.5 v1.5 M723.5 617 v1.5 M738.5 388 v1.5 M738.5 398.5 v1.5 M738.5 617 v1.5 M754.5 388 v1.5 M754.5 398.5 v1.5 M754.5 617 v1.5 M769.5 388 v1.5 M769.5 398.5 v1.5 M769.5 617 v1.5 M784.5 388 v1.5 M784.5 398.5 v1.5 M784.5 617 v1.5 M799.5 388 v1.5 M799.5 398.5 v1.5 M799.5 617 v1.5 M814.5 388 v1.5 M814.5 398.5 v1.5 M814.5 617 v1.5 M829.5 388 v1.5 M829.5 398.5 v1.5 M829.5 617 v1.5 M845.5 388 v1.5 M845.5 398.5 v1.5 M845.5 617 v1.5 M860.5 388 v1.5 M860.5 398.5 v1.5 M860.5 617 v1.5 M875.5 388 v1.5 M875.5 398.5 v1.5 M875.5 617 v1.5 M890.5 388 v1.5 M890.5 398.5 v1.5 M890.5 617 v1.5 M905.5 388 v1.5 M905.5 398.5 v1.5 M905.5 617 v1.5 M920.5 388 v1.5 M920.5 398.5 v1.5 M920.5 617 v1.5 M935.5 388 v1.5 M935.5 398.5 v1.5 M935.5 617 v1.5 M951.5 388 v1.5 M951.5 398.5 v1.5 M951.5 617 v1.5 M966.5 388 v1.5 M966.5 398.5 v1.5 M966.5 617 v1.5 M981.5 388 v1.5 M981.5 398.5 v1.5 M981.5 617 v1.5 M996.5 388 v1.5 M996.5 398.5 v1.5 M996.5 617 v1.5 M1011.5 388 v1.5 M1011.5 398.5 v1.5 M1011.5 617 v1.5 M1026.5 388 v1.5 M1026.5 398.5 v1.5 M1026.5 617 v1.5 M1041.5 388 v1.5 M1041.5 398.5 v1.5 M1041.5 617 v1.5 M1057.5 388 v1.5 M1057.5 398.5 v1.5 M1057.5 617 v1.5 M1072.5 388 v1.5 M1072.5 398.5 v1.5 M1072.5 617 v1.5 M1087.5 388 v1.5 M1087.5 398.5 v1.5 M1087.5 617 v1.5 M1102.5 388 v1.5 M1102.5 398.5 v1.5 M1102.5 617 v1.5 M1117.5 388 v1.5 M1117.5 398.5 v1.5 M1117.5 617 v1.5 M1132.5 388 v1.5 M1132.5 398.5 v1.5 M1132.5 617 v1.5 M1148.5 388 v1.5 M1148.5 398.5 v1.5 M1148.5 617 v1.5 M1163.5 388 v1.5 M1163.5 398.5 v1.5 M1163.5 617 v1.5 M1178.5 388 v1.5 M1178.5 398.5 v1.5 M1178.5 617 v1.5 M1193.5 388 v1.5 M1193.5 398.5 v1.5 M1193.5 617 v1.5 M1208.5 388 v1.5 M1208.5 398.5 v1.5 M1208.5 617 v1.5 M1223.5 388 v1.5 M1223.5 398.5 v1.5 M1223.5 617 v1.5 M1238.5 388 v1.5 M1238.5 398.5 v1.5 M1238.5 617 v1.5 M1254.5 388 v1.5 M1254.5 398.5 v1.5 M1254.5 617 v1.5 M1269.5 388 v1.5 M1269.5 398.5 v1.5 M1269.5 617 v1.5 M1284.5 388 v1.5 M1284.5 398.5 v1.5 M1284.5 617 v1.5 M1299.5 388 v1.5 M1299.5 398.5 v1.5 M1299.5 617 v1.5 M1314.5 388 v1.5 M1314.5 398.5 v1.5 M1314.5 617 v1.5 M1329.5 388 v1.5 M1329.5 398.5 v1.5 M1329.5 617 v1.5 M1344.5 388 v1.5 M1344.5 398.5 v1.5 M1344.5 617 v1.5 M1360.5 388 v1.5 M1360.5 398.5 v1.5 M1360.5 617 v1.5 M1375.5 388 v1.5 M1375.5 398.5 v1.5 M1375.5 617 v1.5 M1390.5 388 v1.5 M1390.5 398.5 v1.5 M1390.5 617 v1.5 M1405.5 388 v1.5 M1405.5 398.5 v1.5 M1405.5 617 v1.5 M1420.5 388 v1.5 M1420.5 398.5 v1.5 M1420.5 617 v1.5 M1435.5 388 v1.5 M1435.5 398.5 v1.5 M1435.5 617 v1.5 M1451.5 388 v1.5 M1451.5 398.5 v1.5 M1451.5 617 v1.5 M1466.5 388 v1.5 M1466.5 398.5 v1.5 M1466.5 617 v1.5 M1481.5 388 v1.5 M1481.5 398.5 v1.5 M1481.5 617 v1.5 M1491 385.5 h2.5 M1491 370.5 h2.5 M1491 355.5 h2.5 M1491 340.5 h2.5 M1491 326.5 h2.5 M1491 312.5 h2.5 M1491 297.5 h2.5 M1491 283.5 h2.5 M1491 269.5 h2.5 M1491 256.5 h2.5 M1491 242.5 h2.5 M1491 228.5 h2.5 M1491 215.5 h2.5 M1491 202.5 h2.5 M1491 189.5 h2.5 M1491 176.5 h2.5 M1491 163.5 h2.5 M1491 150.5 h2.5 M1491 137.5 h2.5 M1491 125.5 h2.5 M1491 112.5 h2.5 M1491 100.5 h2.5 M1491 87.5 h2.5 M1491 75.5 h2.5 M1491 63.5 h2.5 M1491 51.5 h2.5 M1491 39.5 h2.5 M1491 611.5 h1.5 M1491 606.5 h1.5 M1491 602.5 h1.5 M1491 597.5 h2.5 M1491 592.5 h1.5 M1491 587.5 h1.5 M1491 583.5 h1.5 M1491 578.5 h1.5 M1491 573.5 h2.5 M1491 569.5 h1.5 M1491 564.5 h1.5 M1491 559.5 h1.5 M1491 554.5 h1.5 M1491 550.5 h2.5 M1491 545.5 h1.5 M1491 540.5 h1.5 M1491 536.5 h1.5 M1491 531.5 h1.5 M1491 526.5 h2.5 M1491 522.5 h1.5 M1491 517.5 h1.5 M1491 512.5 h1.5 M1491 507.5 h1.5 M1491 503.5 h2.5 M1491 498.5 h1.5 M1491 493.5 h1.5 M1491 489.5 h1.5 M1491 484.5 h1.5 M1491 479.5 h2.5 M1491 475.5 h1.5 M1491 470.5 h1.5 M1491 465.5 h1.5 M1491 460.5 h1.5 M1491 456.5 h2.5 M1491 451.5 h1.5 M1491 446.5 h1.5 M1491 442.5 h1.5 M1491 437.5 h1.5 M1491 432.5 h2.5 M1491 427.5 h1.5 M1491 423.5 h1.5 M1491 418.5 h1.5 M1491 413.5 h1.5 M1491 409.5 h2.5 M1491 404.5 h1.5" stroke="#0d1a4a" stroke-width="1" fill="none"/>
<text x="1493.5" y="387.5057655328602" font-size="9.6" fill="#111" font-weight="normal" text-anchor="start" textLength="22.8" lengthAdjust="spacingAndGlyphs" >98000</text>
<text x="1493.5" y="372.61223659514576" font-size="9.6" fill="#111" font-weight="normal" text-anchor="start" textLength="22.8" lengthAdjust="spacingAndGlyphs" >99000</text>
<text x="1493.5" y="357.868393898059" font-size="9.6" fill="#111" font-weight="normal" text-anchor="start" textLength="22.3" lengthAdjust="spacingAndGlyphs" >100K</text>
<text x="1493.5" y="343.27125853646146" font-size="9.6" fill="#111" font-weight="normal" text-anchor="start" textLength="22.3" lengthAdjust="spacingAndGlyphs" >101K</text>
<text x="1493.5" y="328.8179396545633" font-size="9.6" fill="#111" font-weight="normal" text-anchor="start" textLength="22.3" lengthAdjust="spacingAndGlyphs" >102K</text>
<text x="1493.5" y="314.5056310097133" font-size="9.6" fill="#111" font-weight="normal" text-anchor="start" textLength="22.3" lengthAdjust="spacingAndGlyphs" >103K</text>
<text x="1493.5" y="300.33160770219536" font-size="9.6" fill="#111" font-weight="normal" text-anchor="start" textLength="22.3" lengthAdjust="spacingAndGlyphs" >104K</text>
<text x="1493.5" y="286.2932230615023" font-size="9.6" fill="#111" font-weight="normal" text-anchor="start" textLength="22.3" lengthAdjust="spacingAndGlyphs" >105K</text>
<text x="1493.5" y="272.3879056801865" font-size="9.6" fill="#111" font-weight="normal" text-anchor="start" textLength="22.3" lengthAdjust="spacingAndGlyphs" >106K</text>
<text x="1493.5" y="258.6131565869726" font-size="9.6" fill="#111" font-weight="normal" text-anchor="start" textLength="22.3" lengthAdjust="spacingAndGlyphs" >107K</text>
<text x="1493.5" y="244.96654655135882" font-size="9.6" fill="#111" font-weight="normal" text-anchor="start" textLength="22.3" lengthAdjust="spacingAndGlyphs" >108K</text>
<text x="1493.5" y="231.44571351243536" font-size="9.6" fill="#111" font-weight="normal" text-anchor="start" textLength="22.3" lengthAdjust="spacingAndGlyphs" >109K</text>
<text x="1493.5" y="218.0483601251144" font-size="9.6" fill="#111" font-weight="normal" text-anchor="start" textLength="22.3" lengthAdjust="spacingAndGlyphs" >110K</text>
<text x="1493.5" y="204.77225141739478" font-size="9.6" fill="#111" font-weight="normal" text-anchor="start" textLength="22.3" lengthAdjust="spacingAndGlyphs" >111K</text>
<text x="1493.5" y="191.61521255268548" font-size="9.6" fill="#111" font-weight="normal" text-anchor="start" textLength="22.3" lengthAdjust="spacingAndGlyphs" >112K</text>
<text x="1493.5" y="178.57512669158535" font-size="9.6" fill="#111" font-weight="normal" text-anchor="start" textLength="22.3" lengthAdjust="spacingAndGlyphs" >113K</text>
<text x="1493.5" y="165.6499329478643" font-size="9.6" fill="#111" font-weight="normal" text-anchor="start" textLength="22.3" lengthAdjust="spacingAndGlyphs" >114K</text>
<text x="1493.5" y="152.83762443370122" font-size="9.6" fill="#111" font-weight="normal" text-anchor="start" textLength="22.3" lengthAdjust="spacingAndGlyphs" >115K</text>
<text x="1493.5" y="140.136246389552" font-size="9.6" fill="#111" font-weight="normal" text-anchor="start" textLength="22.3" lengthAdjust="spacingAndGlyphs" >116K</text>
<text x="1493.5" y="127.54389439428087" font-size="9.6" fill="#111" font-weight="normal" text-anchor="start" textLength="22.3" lengthAdjust="spacingAndGlyphs" >117K</text>
<text x="1493.5" y="115.05871265145899" font-size="9.6" fill="#111" font-weight="normal" text-anchor="start" textLength="22.3" lengthAdjust="spacingAndGlyphs" >118K</text>
<text x="1493.5" y="102.67889234797558" font-size="9.6" fill="#111" font-weight="normal" text-anchor="start" textLength="22.3" lengthAdjust="spacingAndGlyphs" >119K</text>
<text x="1493.5" y="90.40267008132776" font-size="9.6" fill="#111" font-weight="normal" text-anchor="start" textLength="22.3" lengthAdjust="spacingAndGlyphs" >120K</text>
<text x="1493.5" y="78.22832635216977" font-size="9.6" fill="#111" font-weight="normal" text-anchor="start" textLength="22.3" lengthAdjust="spacingAndGlyphs" >121K</text>
<text x="1493.5" y="66.15418411890174" font-size="9.6" fill="#111" font-weight="normal" text-anchor="start" textLength="22.3" lengthAdjust="spacingAndGlyphs" >122K</text>
<text x="1493.5" y="54.178607411252514" font-size="9.6" fill="#111" font-weight="normal" text-anchor="start" textLength="22.3" lengthAdjust="spacingAndGlyphs" >123K</text>
<text x="1493.5" y="42.3" font-size="9.6" fill="#111" font-weight="normal" text-anchor="start" textLength="22.3" lengthAdjust="spacingAndGlyphs" >124K</text>
<text x="1493.5" y="599.9" font-size="9.6" fill="#111" font-weight="normal" text-anchor="start" >0</text>
<text x="1493.5" y="576.386" font-size="9.6" fill="#111" font-weight="normal" text-anchor="start" >20</text>
<text x="1493.5" y="552.872" font-size="9.6" fill="#111" font-weight="normal" text-anchor="start" >40</text>
<text x="1493.5" y="529.358" font-size="9.6" fill="#111" font-weight="normal" text-anchor="start" >60</text>
<text x="1493.5" y="505.844" font-size="9.6" fill="#111" font-weight="normal" text-anchor="start" >80</text>
<text x="1493.5" y="482.33" font-size="9.6" fill="#111" font-weight="normal" text-anchor="start" >100</text>
<text x="1493.5" y="458.816" font-size="9.6" fill="#111" font-weight="normal" text-anchor="start" >120</text>
<text x="1493.5" y="435.302" font-size="9.6" fill="#111" font-weight="normal" text-anchor="start" >140</text>
<text x="1493.5" y="411.788" font-size="9.6" fill="#111" font-weight="normal" text-anchor="start" >160</text>
<text x="26.9" y="397.3" font-size="9" fill="#000" font-weight="normal" text-anchor="middle" >19</text>
<text x="26.9" y="626.3" font-size="9" fill="#000" font-weight="normal" text-anchor="middle" >19</text>
<text x="132.9" y="397.3" font-size="9" fill="#000" font-weight="normal" text-anchor="middle" >26</text>
<text x="132.9" y="626.3" font-size="9" fill="#000" font-weight="normal" text-anchor="middle" >26</text>
<text x="223.9" y="397.3" font-size="9.5" fill="#000" font-weight="bold" text-anchor="middle" >Jun</text>
<text x="223.9" y="626.3" font-size="9.5" fill="#000" font-weight="bold" text-anchor="middle" >Jun</text>
<text x="239.0" y="397.3" font-size="9" fill="#000" font-weight="normal" text-anchor="middle" >2</text>
<text x="239.0" y="626.3" font-size="9" fill="#000" font-weight="normal" text-anchor="middle" >2</text>
<text x="345.1" y="397.3" font-size="9" fill="#000" font-weight="normal" text-anchor="middle" >9</text>
<text x="345.1" y="626.3" font-size="9" fill="#000" font-weight="normal" text-anchor="middle" >9</text>
<text x="451.1" y="397.3" font-size="9" fill="#000" font-weight="normal" text-anchor="middle" >16</text>
<text x="451.1" y="626.3" font-size="9" fill="#000" font-weight="normal" text-anchor="middle" >16</text>
<text x="557.1" y="397.3" font-size="9" fill="#000" font-weight="normal" text-anchor="middle" >23</text>
<text x="557.1" y="626.3" font-size="9" fill="#000" font-weight="normal" text-anchor="middle" >23</text>
<text x="663.2" y="397.3" font-size="9" fill="#000" font-weight="normal" text-anchor="middle" >30</text>
<text x="663.2" y="626.3" font-size="9" fill="#000" font-weight="normal" text-anchor="middle" >30</text>
<text x="678.4" y="397.3" font-size="9.5" fill="#000" font-weight="bold" text-anchor="middle" >Jul</text>
<text x="678.4" y="626.3" font-size="9.5" fill="#000" font-weight="bold" text-anchor="middle" >Jul</text>
<text x="769.2" y="397.3" font-size="9" fill="#000" font-weight="normal" text-anchor="middle" >7</text>
<text x="769.2" y="626.3" font-size="9" fill="#000" font-weight="normal" text-anchor="middle" >7</text>
<text x="875.3" y="397.3" font-size="9" fill="#000" font-weight="normal" text-anchor="middle" >14</text>
<text x="875.3" y="626.3" font-size="9" fill="#000" font-weight="normal" text-anchor="middle" >14</text>
<text x="981.4" y="397.3" font-size="9" fill="#000" font-weight="normal" text-anchor="middle" >21</text>
<text x="981.4" y="626.3" font-size="9" fill="#000" font-weight="normal" text-anchor="middle" >21</text>
<text x="1087.4" y="397.3" font-size="9" fill="#000" font-weight="normal" text-anchor="middle" >28</text>
<text x="1087.4" y="626.3" font-size="9" fill="#000" font-weight="normal" text-anchor="middle" >28</text>
<text x="1148.0" y="397.3" font-size="9.5" fill="#000" font-weight="bold" text-anchor="middle" >Aug</text>
<text x="1148.0" y="626.3" font-size="9.5" fill="#000" font-weight="bold" text-anchor="middle" >Aug</text>
<text x="1193.5" y="397.3" font-size="9" fill="#000" font-weight="normal" text-anchor="middle" >4</text>
<text x="1193.5" y="626.3" font-size="9" fill="#000" font-weight="normal" text-anchor="middle" >4</text>
<text x="1299.5" y="397.3" font-size="9" fill="#000" font-weight="normal" text-anchor="middle" >11</text>
<text x="1299.5" y="626.3" font-size="9" fill="#000" font-weight="normal" text-anchor="middle" >11</text>
<text x="1405.6" y="397.3" font-size="9" fill="#000" font-weight="normal" text-anchor="middle" >18</text>
<text x="1405.6" y="626.3" font-size="9" fill="#000" font-weight="normal" text-anchor="middle" >18</text>
<path d="M1488.4 141.3 L1494 135.5 H1530 V147.3 H1494 Z" fill="#fff" stroke="#111" stroke-width="1.2"/>
<path d="M1488.4 141 L1494 135.5 H1530" fill="none" stroke="#1c1ca0" stroke-width="1.8"/>
<text x="1492.5" y="145.8" font-size="10" fill="#000" font-weight="bold" text-anchor="start" textLength="37" lengthAdjust="spacingAndGlyphs" >115608.</text>
<path d="M1488 349.7 L1492.6 345.2 H1530 V354.3 H1492.6 Z" fill="#fff" stroke="#d0284c" stroke-width="1.2"/>
<text x="1493" y="352.8" font-size="8.8" fill="#111" font-weight="normal" text-anchor="start" textLength="36" lengthAdjust="spacingAndGlyphs" >100351.</text>
<path d="M1488.2 578.4 L1492.8 573.5 H1518.5 V583.2 H1492.8 Z" fill="#fff" stroke="#1c3a88" stroke-width="1.1"/>
<path d="M1492.8 583.2 H1518.5" stroke="#d0102a" stroke-width="1.6"/>
<text x="1493" y="581.4" font-size="9.3" fill="#111" font-weight="normal" text-anchor="start" textLength="23.8" lengthAdjust="spacingAndGlyphs" >15.14</text>
<rect x="19.5" y="617" width="70" height="11" fill="#d4d4d4"/>
<text x="22" y="627" font-size="9" fill="#222" font-weight="normal" text-anchor="start" textLength="64.5" lengthAdjust="spacingAndGlyphs" >27 Aug Y:-26.33</text>
</svg></body></html>
